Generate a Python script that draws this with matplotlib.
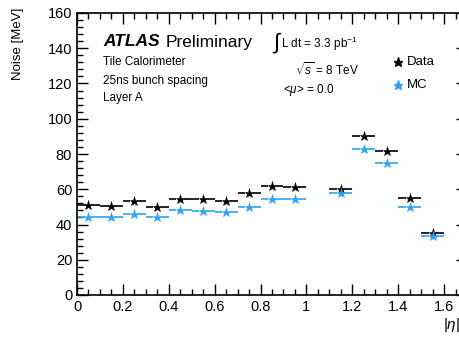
import numpy as np
import matplotlib
matplotlib.use("Agg")
import matplotlib.pyplot as plt
from matplotlib.ticker import MultipleLocator

plt.rcParams['font.family'] = ['Liberation Sans', 'DejaVu Sans']
plt.rcParams['mathtext.fontset'] = 'custom'
plt.rcParams['mathtext.rm'] = 'Liberation Sans'
plt.rcParams['mathtext.it'] = 'Liberation Sans:italic'

# |eta| bin centres and half width
eta = [0.05, 0.15, 0.25, 0.35, 0.45, 0.55, 0.65, 0.75, 0.85, 0.95,
       1.15, 1.25, 1.35, 1.45, 1.55]
half_width = 0.05

noise_data = [50.9, 50.5, 53.3, 50.1, 54.3, 54.3, 53.3, 57.7, 61.9, 61.0,
              60.4, 90.1, 81.5, 55.2, 35.2]
noise_mc = [44.4, 44.4, 45.9, 44.0, 48.0, 47.4, 47.0, 50.1, 54.3, 54.3,
            58.1, 82.9, 74.7, 50.1, 33.3]

data_color = 'black'
mc_color = '#2ea3f2'

fig = plt.figure(figsize=(4.59, 3.48), dpi=100)
ax = fig.add_axes([77 / 459, 53 / 348, 390 / 459, 282 / 348])


def draw_series(x, y, color):
    x = np.asarray(x)
    y = np.asarray(y)
    gap = 0.017
    ax.hlines(y, x - half_width, x - gap, color=color, lw=1.2)
    ax.hlines(y, x + gap, x + half_width, color=color, lw=1.2)
    ax.plot(x, y, linestyle='none', marker='*', markersize=6.5,
            color=color, markeredgewidth=0.4)


draw_series(eta, noise_data, data_color)
draw_series(eta, noise_mc, mc_color)

ax.set_xlim(0, 1.7)
ax.set_ylim(0, 160)
ax.xaxis.set_minor_locator(MultipleLocator(0.05))
ax.yaxis.set_major_locator(MultipleLocator(20))
ax.yaxis.set_minor_locator(MultipleLocator(4))
ax.set_xticks([0, 0.2, 0.4, 0.6, 0.8, 1.0, 1.2, 1.4, 1.6])
ax.set_xticklabels(['0', '0.2', '0.4', '0.6', '0.8', '1', '1.2', '1.4', '1.6'])
ax.tick_params(which='both', direction='in', top=True, right=True,
               labelsize=10.5, width=1.0)
ax.tick_params(which='major', length=8)
ax.tick_params(which='minor', length=4)
for s in ax.spines.values():
    s.set_linewidth(1.2)

fig.text(18 / 459, 1 - 8 / 348, 'Noise [MeV]', rotation=90, ha='center',
         va='top', fontsize=9.5)
fig.text(452 / 459, 1 - 325 / 348, r'|$\eta$|', ha='center', va='center',
         fontsize=11)

# Labels in the upper left
fig.text(103 / 459, 1 - 42 / 348, 'ATLAS', fontsize=12.5, fontweight='bold',
         fontstyle='italic', va='center')
fig.text(166 / 459, 1 - 42 / 348, 'Preliminary', fontsize=12.5, va='center')
fig.text(103 / 459, 1 - 62 / 348, 'Tile Calorimeter', fontsize=8.5, va='center')
fig.text(103 / 459, 1 - 81 / 348, '25ns bunch spacing', fontsize=8.5, va='center')
fig.text(103 / 459, 1 - 98 / 348, 'Layer A', fontsize=8.5, va='center')

# Run conditions
fig.text(272 / 459, 1 - 43 / 348, r'$\int$', fontsize=16, va='center')
fig.text(281 / 459, 1 - 44 / 348, r'L dt = 3.3 pb$^{-1}$', fontsize=8.5,
         va='center')
fig.text(295 / 459, 1 - 70 / 348, r'$\sqrt{s}$ = 8 TeV', fontsize=8.5,
         va='center')
fig.text(283 / 459, 1 - 90 / 348, r'<$\mu$> = 0.0', fontsize=8.5, va='center')

# Legend
for yy, col, lab in [(62, data_color, 'Data'), (85, mc_color, 'MC')]:
    fig.lines.append(plt.Line2D([398 / 459], [1 - yy / 348], marker='*',
                                markersize=6.5, color=col, linestyle='none',
                                transform=fig.transFigure, figure=fig))
    fig.text(407 / 459, 1 - yy / 348, lab, fontsize=9.5, va='center')

fig.savefig('out.png', dpi=100)
